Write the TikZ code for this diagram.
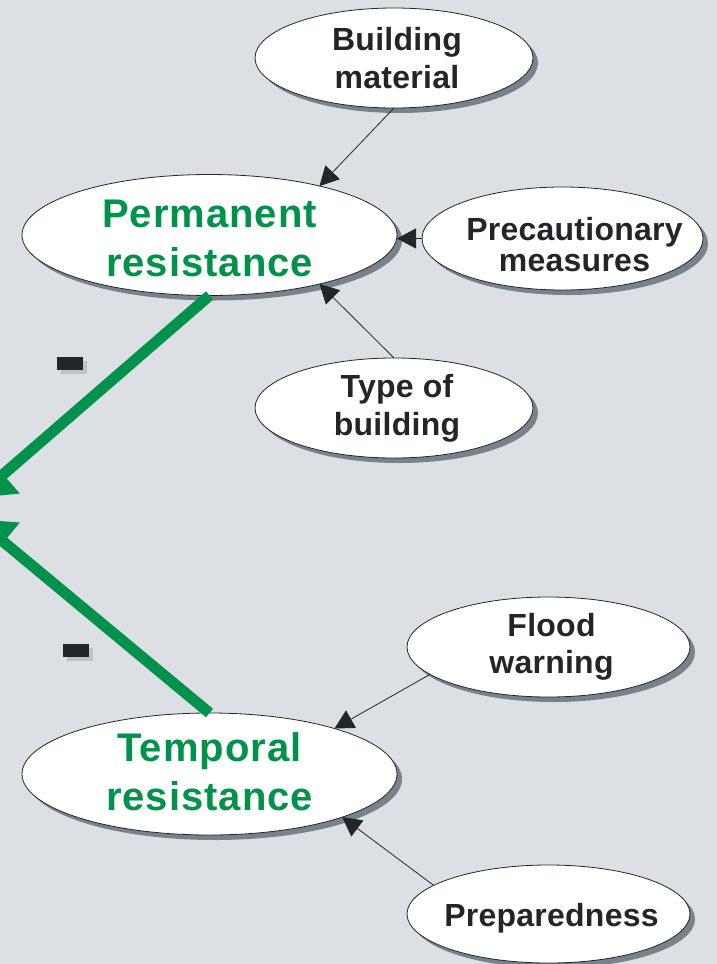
\documentclass[tikz,border=0pt]{standalone}
\usepackage{fontspec}
\setmainfont{Liberation Sans}[LetterSpace=0.8]
\newfontfamily\spacedfont{Liberation Sans}[LetterSpace=2.5]
\usetikzlibrary{shapes.geometric,shadows,arrows.meta}
\definecolor{bggrey}{HTML}{DCDFE3}
\definecolor{shadegrey}{HTML}{78828B}
\definecolor{inkgrey}{HTML}{222629}
\definecolor{leafgreen}{HTML}{00914A}
\definecolor{minusshade}{HTML}{BEC2C8}

\begin{document}
\begin{tikzpicture}[x=1pt,y=-1pt]
\tikzstyle{every node}+=[inner sep=0pt, outer sep=0pt]
\tikzstyle{bubble}=[ellipse, draw=inkgrey, line width=0.8pt, fill=white, drop shadow={shadow xshift=5pt, shadow yshift=-5pt, fill=shadegrey, opacity=1}]
\tikzstyle{greentxt}=[text=leafgreen, align=center, font=\spacedfont\fontsize{40}{49}\selectfont\bfseries]
\tikzstyle{blacktxt}=[text=inkgrey, align=center, xshift=3pt, font=\fontsize{32}{36}\selectfont\bfseries]
\tikzstyle{thin}=[draw=inkgrey, line width=0.8pt, -{Triangle[length=19pt,width=20pt]}]
\tikzstyle{thick}=[draw=leafgreen, line width=11pt, -{Triangle[length=36pt,width=48pt]}]
\tikzstyle{minusbar}=[fill=inkgrey, minimum width=26pt, minimum height=13pt, drop shadow={shadow xshift=4pt, shadow yshift=-4pt, fill=minusshade, opacity=1}]
\useasboundingbox (0,0) rectangle (717,964);
\fill [bggrey] (0,0) rectangle (717,964);
\clip (0,0) rectangle (717,964);
\node [bubble, minimum width=278pt, minimum height=100pt, label={[blacktxt, font=\fontsize{32}{38}\selectfont\bfseries]center:{Building\\material}}] (mat) at (394,58) {};
\node [bubble, minimum width=375pt, minimum height=121pt, label={[greentxt, yshift=-3pt]center:{Permanent\\resistance}}] (perm) at (209.5,235) {};
\node [bubble, minimum width=281pt, minimum height=103pt, label={[blacktxt, xshift=9pt, yshift=-6pt, font=\fontsize{32}{31}\selectfont\bfseries]center:{Precautionary\\measures}}] (prec) at (562.5,238.5) {};
\node [bubble, minimum width=278pt, minimum height=100pt, label={[blacktxt, font=\fontsize{32}{38}\selectfont\bfseries]center:{Type of\\building}}] (type) at (394,408) {};
\node [bubble, minimum width=283pt, minimum height=100pt, label={[blacktxt, font=\fontsize{32}{37}\selectfont\bfseries]center:{Flood\\warning}}] (flood) at (548.5,647) {};
\node [bubble, minimum width=375pt, minimum height=122pt, label={[greentxt, yshift=2pt]center:{Temporal\\resistance}}] (temp) at (209.5,774) {};
\node [bubble, minimum width=283pt, minimum height=98pt, label={[blacktxt, yshift=-4pt]center:{Preparedness}}] (prep) at (548.5,914) {};
\coordinate (tipA) at (-24,498);
\coordinate (tipB) at (-24,519);
\draw [thin] (mat.south) -- (perm.24);
\draw [thin] (prec.west) -- (prec.west -| perm.east);
\draw [thin] (type.north) -- (perm.-24);
\draw [thin] (flood.193) -- (temp.20);
\draw [thin] (prep.166) -- (temp.-18);
\draw [thick] (perm.south) -- (tipA);
\draw [thick] (temp.north) -- (tipB);
\node [minusbar] (minA) at (70,363.5) {};
\node [minusbar] (minB) at (76,650.5) {};
\end{tikzpicture}
\end{document}
